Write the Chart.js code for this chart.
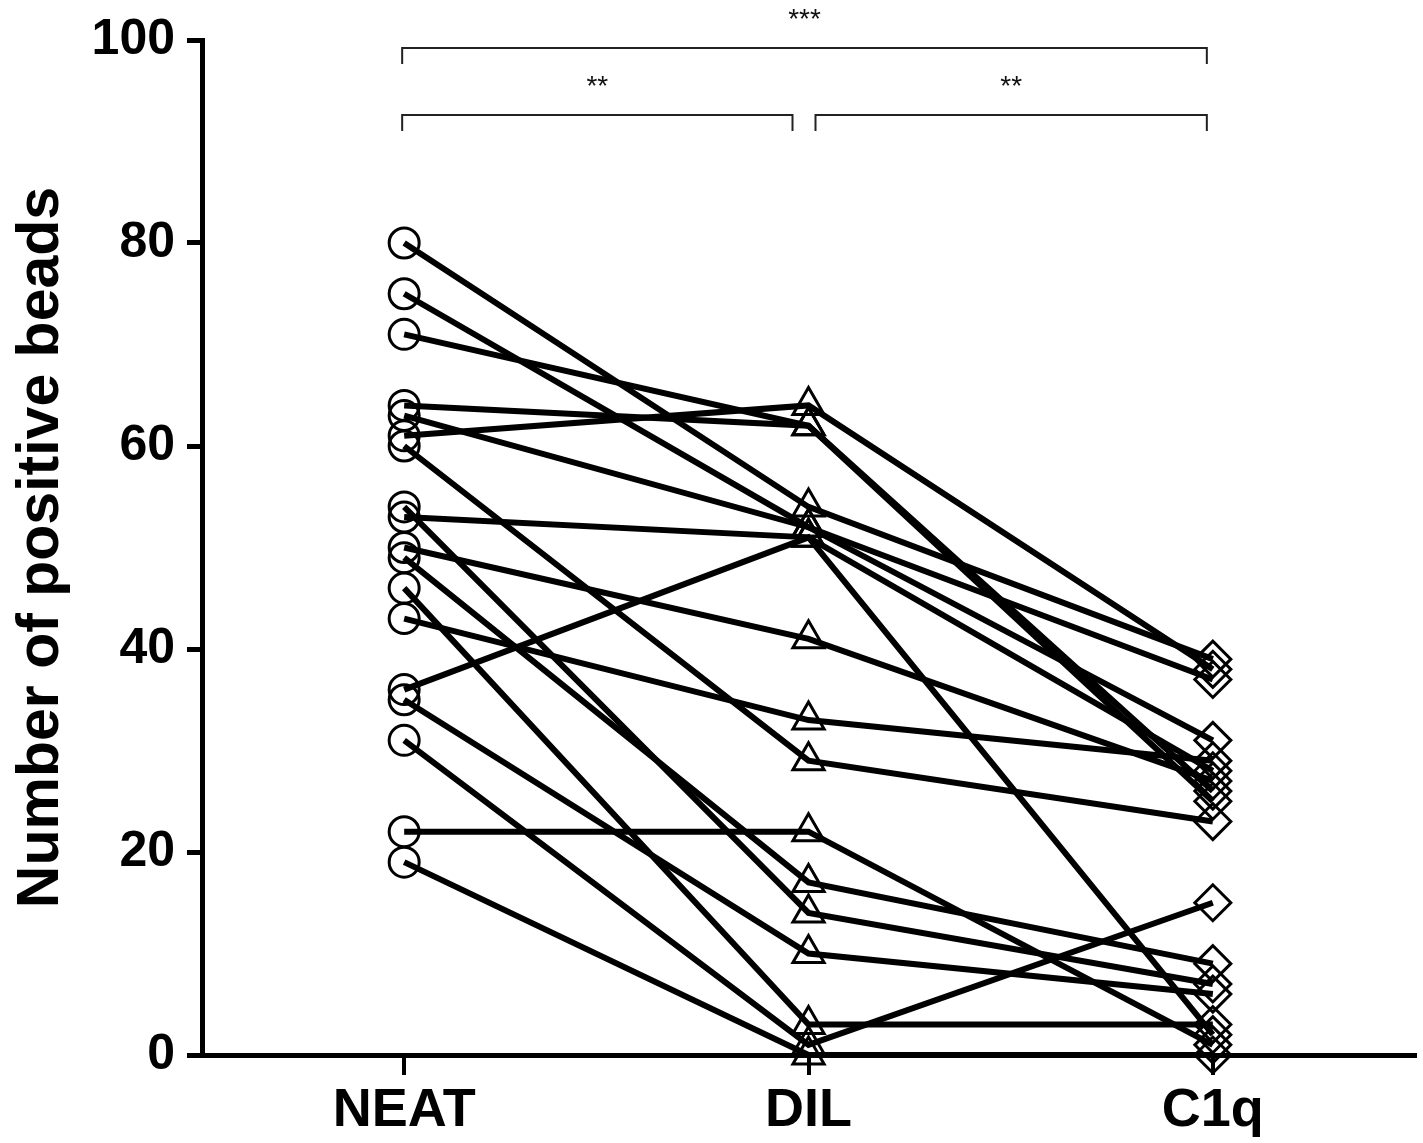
<!DOCTYPE html>
<html>
<head>
<meta charset="utf-8">
<script src="https://cdn.jsdelivr.net/npm/chart.js@4.4.1/dist/chart.umd.min.js"></script>
<style>
  html, body { margin: 0; padding: 0; background: #fff; }
  #wrap { width: 1423px; height: 1143px; position: relative; }
</style>
</head>
<body>
<div id="wrap"><canvas id="paired-chart"></canvas></div>
<script>
// categories on the x axis
const categories = ['NEAT', 'DIL', 'C1q'];
// one entry per sample, same order in each array
const neat = [80, 75, 71, 64, 63, 61, 60, 54, 53, 50, 49, 46, 43, 36, 35, 31, 22, 19];
const dil  = [54, 52, 62, 62, 52, 64, 29, 14, 51, 41, 17, 3, 33, 51, 10, 1, 22, 0];
const c1q  = [39, 37, 26, 25, 31, 38, 23, 7, 28, 27, 9, 3, 29, 2, 6, 15, 1, 0];
const yTicks = [0, 20, 40, 60, 80, 100];
// significance brackets: [from index, to index, label, level]
const brackets = [
  [0, 2, '***', 99.2],
  [0, 1, '**', 92.6],
  [1, 2, '**', 92.6]
];

const FONT = "'Liberation Sans', Arial, Helvetica, sans-serif";

const datasets = neat.map((n, i) => ({
  label: 'sample ' + (i + 1),
  data: [n, dil[i], c1q[i]],
  borderColor: '#000',
  borderWidth: 6,
  pointStyle: ['circle', 'triangle', 'rectRot'],
  pointRadius: [15, 18, 18],
  pointBorderWidth: 3,
  pointBorderColor: '#000',
  pointBackgroundColor: 'rgba(0,0,0,0)',
  clip: false,
  tension: 0
}));

const bracketPlugin = {
  id: 'brackets',
  afterDraw(chart) {
    const { ctx, scales: { x, y } } = chart;
    ctx.save();
    ctx.strokeStyle = '#222';
    ctx.lineWidth = 2;
    ctx.fillStyle = '#111';
    ctx.font = "28px " + FONT;
    ctx.textAlign = 'center';
    ctx.textBaseline = 'middle';
    brackets.forEach(([a, b, txt, lvl]) => {
      let x1 = x.getPixelForValue(a) - 2;
      let x2 = x.getPixelForValue(b) - 6;
      if (a === 1) x1 += 9;
      if (b === 1) x2 -= 10;
      const yTop = y.getPixelForValue(lvl);
      const yLeg = yTop + 16;
      ctx.beginPath();
      ctx.moveTo(x1, yLeg);
      ctx.lineTo(x1, yTop);
      ctx.lineTo(x2, yTop);
      ctx.lineTo(x2, yLeg);
      ctx.stroke();
      ctx.fillText(txt, (x1 + x2) / 2, yTop - 28);
    });
    ctx.restore();
  }
};

new Chart(document.getElementById('paired-chart').getContext('2d'), {
  type: 'line',
  data: { labels: categories, datasets: datasets },
  options: {
    responsive: true,
    maintainAspectRatio: false,
    animation: false,
    layout: { autoPadding: false, padding: { top: 40, right: 8, left: 0, bottom: 0 } },
    plugins: {
      legend: { display: false },
      tooltip: { enabled: false }
    },
    scales: {
      x: {
        offset: true,
        grid: { offset: false, drawOnChartArea: false, color: '#000', lineWidth: 4, tickLength: 20 },
        border: { display: true, color: '#000', width: 5 },
        ticks: { color: '#000', font: { family: FONT, size: 54, weight: 'bold' }, padding: 4 },
        afterFit(scale) {
          scale.height = 88;
          scale.paddingLeft = 0;
          scale.paddingRight = 0;
        }
      },
      y: {
        min: 0,
        max: 100,
        afterBuildTicks(scale) { scale.ticks = yTicks.map(v => ({ value: v })); },
        grid: { drawOnChartArea: false, color: '#000', lineWidth: 5, tickLength: 15 },
        border: { display: true, color: '#000', width: 5 },
        ticks: { color: '#000', font: { family: FONT, size: 50, weight: 'bold' }, padding: 12 },
        title: {
          display: true,
          text: 'Number of positive beads',
          color: '#000',
          font: { family: FONT, size: 59, weight: 'bold' },
          padding: { top: 6, bottom: 0 }
        },
        afterFit(scale) {
          scale.width = 202;
          scale.paddingTop = 0;
          scale.paddingBottom = 0;
        }
      }
    }
  },
  plugins: [bracketPlugin]
});
</script>
</body>
</html>
